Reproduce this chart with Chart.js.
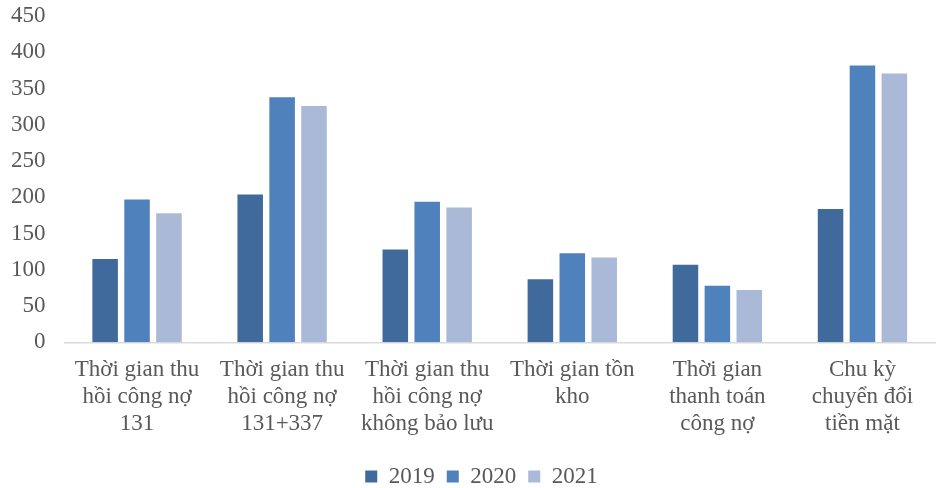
<!DOCTYPE html>
<html>
<head>
<meta charset="utf-8">
<script src="https://cdn.jsdelivr.net/npm/chart.js@4"></script>
<style>
  html, body { margin: 0; padding: 0; background: #ffffff; }
  #wrap { width: 941px; height: 488px; position: relative; }
</style>
</head>
<body>
<div id="wrap"><canvas id="chart"></canvas></div>
<script>
// Days for each working-capital indicator, per year
const categories = [
  ["Thời gian thu", "hồi công nợ", "131"],
  ["Thời gian thu", "hồi công nợ", "131+337"],
  ["Thời gian thu", "hồi công nợ", "không bảo lưu"],
  ["Thời gian tồn", "kho"],
  ["Thời gian", "thanh toán", "công nợ"],
  ["Chu kỳ", "chuyển đổi", "tiền mặt"]
];
const years = ["2019", "2020", "2021"];
const values2019 = [115, 204, 128, 87, 107, 184];
const values2020 = [197, 338, 194, 123, 78, 382];
const values2021 = [178, 326, 186, 117, 72, 371];
const yTicks = [0, 50, 100, 150, 200, 250, 300, 350, 400, 450];

const colors = ["#416A9C", "#4F81BD", "#AAB9D7"];
const series = [values2019, values2020, values2021];

const textColor = "#595959";
const serif = "'Liberation Serif', 'Times New Roman', serif";

// Nudge the legend row slightly right so it sits under the plot area
const legendShift = {
  id: "legendShift",
  afterLayout(chart) {
    if (chart.legend) chart.legend.left += 28;
  }
};

new Chart(document.getElementById("chart"), {
  type: "bar",
  data: {
    labels: categories,
    datasets: years.map((y, i) => ({
      label: y,
      data: series[i],
      backgroundColor: colors[i],
      borderWidth: 0,
      categoryPercentage: 0.66,
      barPercentage: 0.8
    }))
  },
  plugins: [legendShift],
  options: {
    responsive: true,
    maintainAspectRatio: false,
    animation: false,
    layout: { padding: { top: 0, right: 6, left: 0, bottom: -10 } },
    plugins: {
      tooltip: { enabled: false },
      legend: {
        position: "bottom",
        labels: {
          color: textColor,
          font: { family: serif, size: 23 },
          boxWidth: 12,
          boxHeight: 12,
          padding: 12,
          useBorderRadius: false
        }
      }
    },
    scales: {
      x: {
        grid: { display: false },
        border: { color: "#D9D9D9", width: 1.5 },
        afterFit: (axis) => { axis.height += 10; },
        ticks: {
          color: textColor,
          font: { family: serif, size: 23, lineHeight: 1.17 },
          maxRotation: 0,
          autoSkip: false,
          padding: 6
        }
      },
      y: {
        min: 0,
        max: 450,
        afterBuildTicks: (axis) => { axis.ticks = yTicks.map(v => ({ value: v })); },
        grid: { display: false },
        border: { display: false },
        ticks: {
          color: textColor,
          font: { family: serif, size: 23, lineHeight: 0.45 },
          padding: 11
        }
      }
    }
  }
});
</script>
</body>
</html>
